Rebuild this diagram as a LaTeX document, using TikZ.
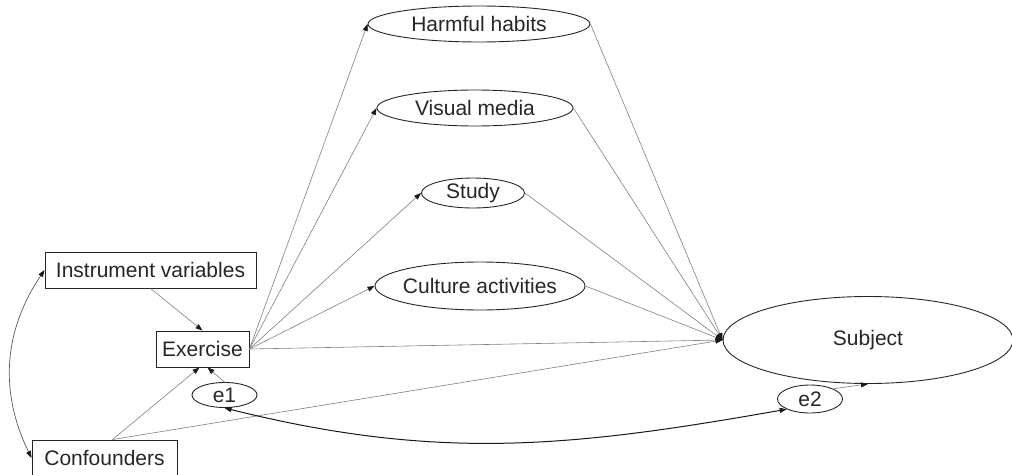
\documentclass[tikz,border=0pt]{standalone}
\usepackage{fontspec}
\setmainfont{Liberation Sans}
\usetikzlibrary{arrows.meta,shapes.geometric}
\begin{document}
\begin{tikzpicture}[x=1pt,y=-1pt,
  font=\fontsize{21}{25}\selectfont,
  boxnode/.style={draw=black!85,line width=0.9pt,rectangle,inner sep=0pt,text=black!85},
  ellnode/.style={draw=black!85,line width=0.9pt,ellipse,inner sep=0pt,text=black!85},
  tip/.tip={Triangle[length=7pt,width=5pt,color=black!90]},
  conn/.style={draw=black!50,line width=0.6pt,-tip},
  dblconn/.style={draw=black!65,line width=0.7pt,tip-tip},
  dblconndark/.style={draw=black!90,line width=1pt,tip-tip}
]
\useasboundingbox (0,0) rectangle (1012,474);

% latent / mediator ellipses
\node[ellnode,minimum width=222pt,minimum height=36pt] (hh) at (479,24) {\makebox[0pt]{Harmful habits}};
\node[ellnode,minimum width=196pt,minimum height=36pt] (vm) at (475,108) {\makebox[0pt]{Visual media}};
\node[ellnode,minimum width=103pt,minimum height=30pt] (st) at (473,193) {\makebox[0pt]{Study}};
\node[ellnode,minimum width=210pt,minimum height=48pt] (ca) at (480,286) {\makebox[0pt]{Culture activities}};
\node[ellnode,minimum width=290pt,minimum height=87pt] (sub) at (868,340) {\makebox[0pt]{Subject}};
\node[ellnode,minimum width=65pt,minimum height=25pt] (e1) at (224.5,395) {\makebox[0pt]{e1}};
\node[ellnode,minimum width=65pt,minimum height=28pt] (e2) at (810,399) {\makebox[0pt]{e2}};

% boxes
\node[boxnode,minimum width=211pt,minimum height=36pt] (iv) at (150.5,270) {Instrument variables};
\node[boxnode,minimum width=93pt,minimum height=36pt] (ex) at (202.5,349) {Exercise};
\node[boxnode,minimum width=145pt,minimum height=36pt] (conf) at (104.5,458) {Confounders};

\coordinate (cfo) at ([xshift=8pt]conf.north);

% exercise to mediators and subject
\draw[conn] (ex.east) -- (hh.west);
\draw[conn] (ex.east) -- (vm.west);
\draw[conn] (ex.east) -- (st.west);
\draw[conn] (ex.east) -- (ca.west);
\draw[conn] (ex.east) -- (sub.west);

% mediators to subject
\draw[conn] (hh.east) -- (sub.west);
\draw[conn] (vm.east) -- (sub.west);
\draw[conn] (st.east) -- (sub.west);
\draw[conn] (ca.east) -- (sub.west);

% instruments, confounders, errors
\draw[conn] (iv.south) -- (ex.north);
\draw[conn] (cfo) -- ([xshift=-3pt]ex.south);
\draw[conn] (cfo) -- (sub.west);
\draw[conn] (e1.north) -- ([xshift=5pt]ex.south);
\draw[conn] (e2.north east) -- (sub.south);

% correlations
\draw[dblconn] (iv.west) to[bend right=30] (conf.west);
\draw[dblconndark] (e1.south) to[out=-14,in=190] (e2.south west);
\end{tikzpicture}
\end{document}
